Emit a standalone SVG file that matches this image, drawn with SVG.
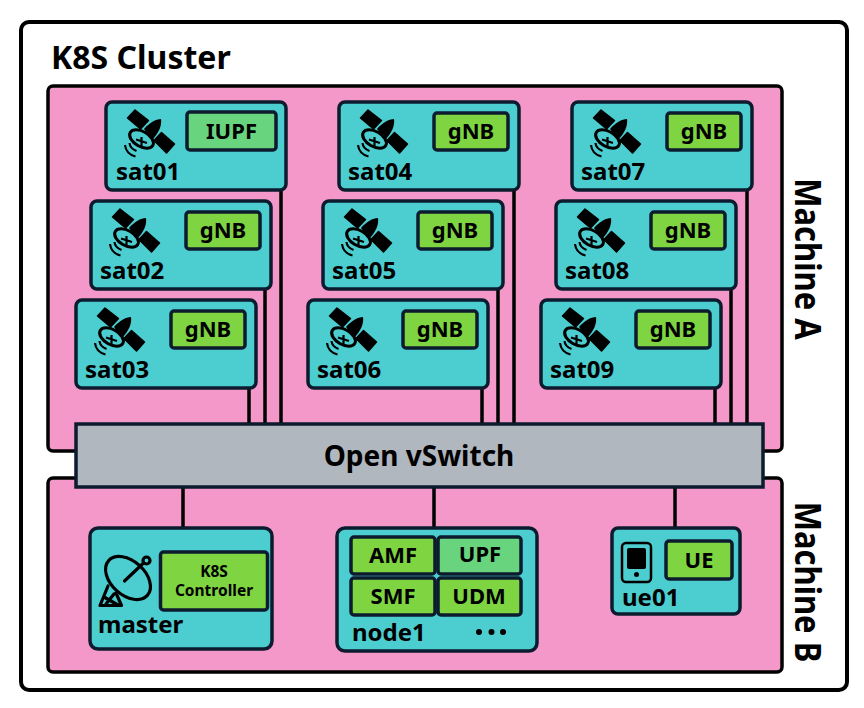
<svg xmlns="http://www.w3.org/2000/svg" width="864" height="708" viewBox="0 0 864 708">
<style>
text{font-family:"Noto Sans","Open Sans","Liberation Sans",sans-serif;font-weight:700;fill:#000}
.box{fill:#4ccdd0;stroke:#0d1b2e;stroke-width:3.5}
.chip{fill:#7ed441;stroke:#0d1b2e;stroke-width:3.5}
.chip2{fill:#68d47e}
.machine{fill:#f398c8;stroke:#000;stroke-width:3.5}
.link{stroke:#000;stroke-width:3.5;fill:none}
.name{font-size:24px}
.lbl{font-size:22px;text-anchor:middle}
.big{font-size:31px;text-anchor:middle}
</style>
<defs>
<g id="sat">
<polygon points="29,8 42.500,18.500 34.500,27 21.500,16" stroke="#000" stroke-width="1.500" stroke-linejoin="round"/>
<polygon points="55.500,30.500 68.500,42 60.500,51 48,38.500" stroke="#000" stroke-width="1.500" stroke-linejoin="round"/>
<path d="M38,27 C43,21 50,17 55,17 C56,23 53,31 46,38Z"/>
<ellipse cx="35.500" cy="37" rx="13" ry="7.500" transform="rotate(30 35.500 37)" fill="#4ccdd0" stroke="#000" stroke-width="3"/>
<path d="M35.500,35V44M30,37.500L41,41" stroke="#000" stroke-width="2.200" fill="none"/>
<path d="M23.500,41 Q24,46.500 30.500,49 M19,43 Q20,52 29.500,54.500" fill="none" stroke="#000" stroke-width="2.200"/>
</g>
</defs>
<rect x="21" y="22" width="826" height="668" rx="8" fill="#fff" stroke="#000" stroke-width="4"/>
<text x="51" y="69" style="font-size:32px">K8S Cluster</text>
<rect id="machine-a" class="machine" x="48" y="86" width="734" height="365" rx="5"/>
<rect id="machine-b" class="machine" x="48" y="478" width="734" height="194" rx="5"/>
<text class="big" transform="translate(795,259) rotate(90) scale(1,1.15)">Machine A</text>
<text class="big" transform="translate(795,582) rotate(90) scale(1,1.15)">Machine B</text>
<g id="connectors">
<path class="link" d="M249,388V424M265,289V424M281,190V424M482,388V424M498,289V424M514,190V424M715,388V424M731,289V424M747,190V424M183,486V528M434,486V528M675,486V528"/>
</g>
<g id="sat01" transform="translate(106,102)"><rect class="box" width="180" height="88" rx="6"/><use href="#sat"/><rect class="chip chip2" x="81" y="10" width="89" height="38" rx="3"/><text class="lbl" x="125.500" y="37">IUPF</text><text class="name" x="10" y="78">sat01</text></g>
<g id="sat02" transform="translate(91,201)"><rect class="box" width="180" height="88" rx="6"/><use href="#sat"/><rect class="chip" x="95" y="11" width="74" height="37" rx="3"/><text class="lbl" x="132" y="37">gNB</text><text class="name" x="9" y="78">sat02</text></g>
<g id="sat03" transform="translate(76,300)"><rect class="box" width="180" height="88" rx="6"/><use href="#sat"/><rect class="chip" x="95" y="11" width="74" height="37" rx="3"/><text class="lbl" x="132" y="37">gNB</text><text class="name" x="9" y="78">sat03</text></g>
<g id="sat04" transform="translate(339,102)"><rect class="box" width="180" height="88" rx="6"/><use href="#sat"/><rect class="chip" x="95" y="11" width="74" height="37" rx="3"/><text class="lbl" x="132" y="37">gNB</text><text class="name" x="9" y="78">sat04</text></g>
<g id="sat05" transform="translate(323,201)"><rect class="box" width="180" height="88" rx="6"/><use href="#sat"/><rect class="chip" x="95" y="11" width="74" height="37" rx="3"/><text class="lbl" x="132" y="37">gNB</text><text class="name" x="9" y="78">sat05</text></g>
<g id="sat06" transform="translate(308,300)"><rect class="box" width="180" height="88" rx="6"/><use href="#sat"/><rect class="chip" x="95" y="11" width="74" height="37" rx="3"/><text class="lbl" x="132" y="37">gNB</text><text class="name" x="9" y="78">sat06</text></g>
<g id="sat07" transform="translate(572,102)"><rect class="box" width="180" height="88" rx="6"/><use href="#sat"/><rect class="chip" x="95" y="11" width="74" height="37" rx="3"/><text class="lbl" x="132" y="37">gNB</text><text class="name" x="9" y="78">sat07</text></g>
<g id="sat08" transform="translate(556,201)"><rect class="box" width="180" height="88" rx="6"/><use href="#sat"/><rect class="chip" x="95" y="11" width="74" height="37" rx="3"/><text class="lbl" x="132" y="37">gNB</text><text class="name" x="9" y="78">sat08</text></g>
<g id="sat09" transform="translate(541,300)"><rect class="box" width="180" height="88" rx="6"/><use href="#sat"/><rect class="chip" x="95" y="11" width="74" height="37" rx="3"/><text class="lbl" x="132" y="37">gNB</text><text class="name" x="9" y="78">sat09</text></g>
<g id="ovs"><rect x="76" y="424" width="687" height="63" fill="#b1b7bf" stroke="#0d1b2e" stroke-width="3.500"/><text x="419" y="466" text-anchor="middle" style="font-size:28px">Open vSwitch</text></g>
<g id="master"><rect class="box" x="90" y="528" width="182" height="121" rx="8"/>
<g fill="none" stroke="#000" stroke-width="3.200" stroke-linejoin="round" stroke-linecap="round"><ellipse cx="128" cy="578" rx="26" ry="17" transform="rotate(42 128 578)"/><path d="M124.500,581L143,563.500"/><circle cx="146.500" cy="560.500" r="3.500"/><path d="M108,586L100,605.500H121.500L116,593M104,597L118,605M106,604L114,594"/></g>
<text class="name" x="98" y="633">master</text>
<rect class="chip" x="160.500" y="552" width="107" height="58" rx="3"/><text text-anchor="middle" style="font-size:15.500px"><tspan x="214" y="577">K8S</tspan><tspan x="214" y="596">Controller</tspan></text></g>
<g id="node1"><rect class="box" x="337" y="528" width="200" height="123" rx="8"/>
<rect class="chip" x="351" y="537" width="84" height="37" rx="3"/><text class="lbl" x="393" y="563">AMF</text>
<rect class="chip chip2" x="438" y="537" width="83" height="37" rx="3"/><text class="lbl" x="480" y="562">UPF</text>
<rect class="chip" x="351" y="578" width="84" height="37" rx="3"/><text class="lbl" x="393" y="604">SMF</text>
<rect class="chip" x="438" y="578" width="83" height="37" rx="3"/><text class="lbl" x="479" y="604">UDM</text>
<text class="name" x="352" y="641">node1</text>
<circle cx="479" cy="632" r="3"/><circle cx="491.500" cy="632" r="3"/><circle cx="503" cy="632" r="3"/></g>
<g id="ue01"><rect class="box" x="612" y="528" width="128" height="86" rx="6"/>
<rect x="622" y="543" width="29" height="39" rx="4" fill="none" stroke="#000" stroke-width="2.500"/><rect x="627" y="548" width="19" height="21" rx="2"/><circle cx="636.500" cy="574.500" r="2.500"/>
<rect class="chip" x="666" y="541" width="66" height="38" rx="3"/><text class="lbl" x="699" y="568">UE</text>
<text class="name" x="622" y="606">ue01</text></g>
</svg>
